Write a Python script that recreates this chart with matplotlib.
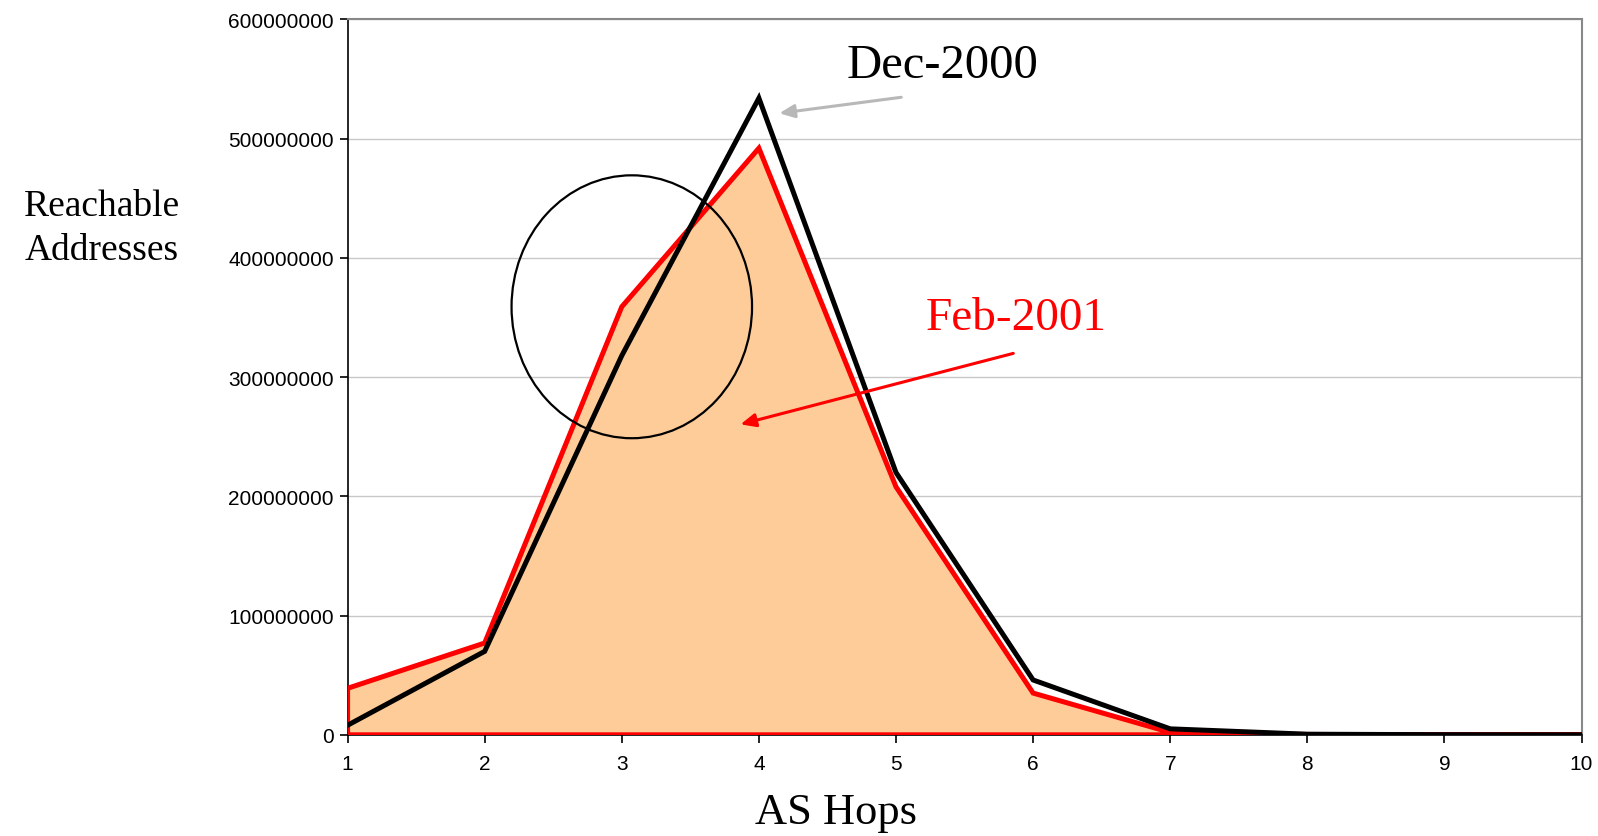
import matplotlib
matplotlib.use("Agg")
import matplotlib.pyplot as plt
from matplotlib.patches import Ellipse

hops = [1, 2, 3, 4, 5, 6, 7, 8, 9, 10]
dec_2000 = [8e6, 70e6, 318e6, 534e6, 220e6, 46e6, 5e6, 0.5e6, 0.1e6, 0]
feb_2001 = [39e6, 77e6, 359e6, 492e6, 208e6, 35e6, 2e6, 0.3e6, 0, 0]
yticks = [0, 100000000, 200000000, 300000000, 400000000, 500000000, 600000000]

fig = plt.figure(figsize=(15.98, 8.37), dpi=100)
ax = fig.add_axes([0.2175, 0.1209, 0.9897 - 0.2175, 0.9756 - 0.1209])

ax.set_xlim(1, 10)
ax.set_ylim(0, 600000000)

ax.set_yticks(yticks)
ax.set_yticklabels([str(v) for v in yticks])
ax.set_xticks(hops)
ax.set_xticklabels([str(h) for h in hops])
ax.yaxis.grid(True, color="#c8c8c8", linewidth=1.0)
ax.set_axisbelow(True)

# area (Feb-2001) with red border
xs = [hops[0]] + hops + [hops[-1]]
ys = [0] + feb_2001 + [0]
ax.fill(xs, ys, facecolor="#FECC99", edgecolor="red", linewidth=3.6, zorder=2,
        joinstyle="miter")
# black line (Dec-2000)
ax.plot(hops, dec_2000, color="black", linewidth=3.6, zorder=3, solid_joinstyle="miter")

for s in ["top", "right"]:
    ax.spines[s].set_color("#888888")
    ax.spines[s].set_linewidth(1.5)
ax.spines["left"].set_color("black")
ax.spines["bottom"].set_color("black")
ax.spines["left"].set_linewidth(1.2)
ax.spines["bottom"].set_linewidth(1.2)
for s in ax.spines.values():
    s.set_zorder(1)
ax.tick_params(axis="both", direction="out", length=6, width=1.2, labelsize=15,
               colors="black")
ax.tick_params(axis="y", pad=4)
ax.tick_params(axis="x", pad=8)
for lab in ax.get_xticklabels() + ax.get_yticklabels():
    lab.set_family("Liberation Sans")

# ellipse
ax.add_patch(Ellipse((3.073, 359e6), 1.754, 220.5e6, fill=False, edgecolor="black",
                     linewidth=1.6, zorder=4, clip_on=False))

# annotations
ax.annotate("", xy=(4.129, 521e6), xytext=(5.058, 535e6),
            arrowprops=dict(arrowstyle="-|>,head_length=0.9,head_width=0.4",
                            color="#b8b8b8", linewidth=2.2), zorder=5)
ax.annotate("", xy=(3.846, 259.8e6), xytext=(5.875, 320.5e6),
            arrowprops=dict(arrowstyle="-|>,head_length=0.9,head_width=0.4",
                            color="red", linewidth=2.2), zorder=5)
ax.text(5.34, 561.5e6, "Dec-2000", ha="center", va="center", fontsize=35,
        family="Liberation Serif", color="black")
ax.text(5.875, 349.6e6, "Feb-2001", ha="center", va="center", fontsize=34,
        family="Liberation Serif", color="red")

fig.text(0.0638, 0.727, "Reachable\nAddresses", ha="center", va="center", fontsize=27,
         family="Liberation Serif", linespacing=1.35)
fig.text(0.523, 0.029, "AS Hops", ha="center", va="center", fontsize=32,
         family="Liberation Serif")

fig.savefig("out.png", dpi=100)
